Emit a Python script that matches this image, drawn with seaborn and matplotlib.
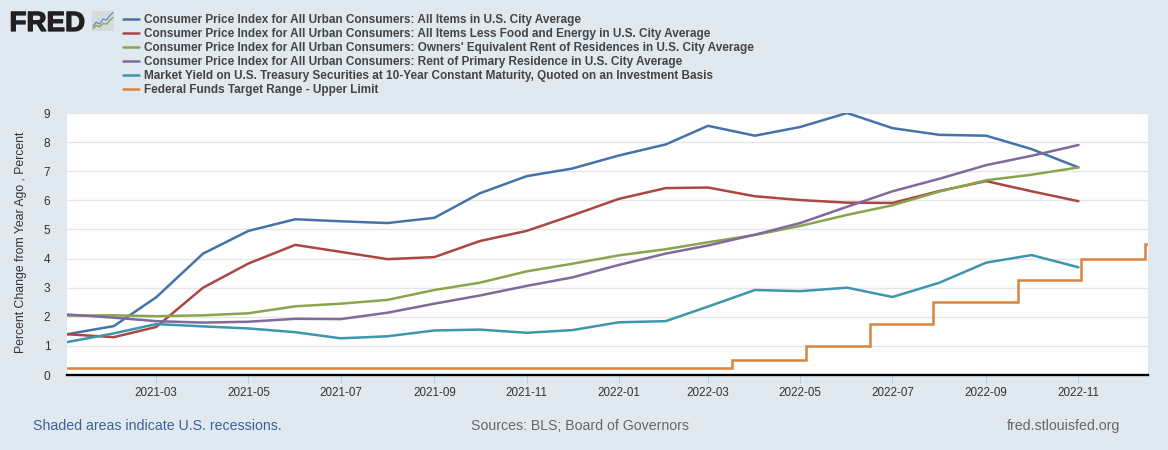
import matplotlib
matplotlib.use("Agg")
import matplotlib.pyplot as plt
import matplotlib.dates as mdates
import matplotlib.patheffects as pe
import pandas as pd
import seaborn as sns

months = pd.date_range("2021-01-01", "2022-11-01", freq="MS")
cpi_all = [1.40, 1.68, 2.67, 4.17, 4.95, 5.35, 5.28, 5.22, 5.40, 6.24, 6.83, 7.09,
           7.54, 7.92, 8.56, 8.22, 8.52, 9.00, 8.48, 8.25, 8.22, 7.76, 7.13]
cpi_core = [1.40, 1.30, 1.65, 3.00, 3.83, 4.47, 4.23, 3.98, 4.05, 4.60, 4.95, 5.48,
            6.05, 6.42, 6.44, 6.14, 6.01, 5.92, 5.91, 6.32, 6.66, 6.31, 5.97]
oer = [2.04, 2.05, 2.02, 2.05, 2.12, 2.36, 2.45, 2.58, 2.92, 3.17, 3.56, 3.82,
       4.11, 4.32, 4.56, 4.81, 5.12, 5.50, 5.83, 6.30, 6.69, 6.88, 7.13]
rent = [2.08, 1.97, 1.85, 1.80, 1.83, 1.93, 1.92, 2.14, 2.45, 2.73, 3.06, 3.35,
        3.78, 4.17, 4.45, 4.82, 5.22, 5.78, 6.31, 6.74, 7.21, 7.53, 7.90]
yield_10y = [1.13, 1.43, 1.75, 1.67, 1.60, 1.47, 1.26, 1.33, 1.53, 1.56, 1.45, 1.54,
             1.81, 1.85, 2.35, 2.92, 2.88, 3.00, 2.68, 3.17, 3.86, 4.12, 3.70]
ff_dates = pd.to_datetime(["2021-01-01", "2022-03-17", "2022-05-05", "2022-06-16", "2022-07-28",
                           "2022-09-22", "2022-11-03", "2022-12-15", "2022-12-17"])
ff_upper = [0.25, 0.50, 1.00, 1.75, 2.50, 3.25, 4.00, 4.50, 4.50]

names = ["Consumer Price Index for All Urban Consumers: All Items in U.S. City Average",
         "Consumer Price Index for All Urban Consumers: All Items Less Food and Energy in U.S. City Average",
         "Consumer Price Index for All Urban Consumers: Owners' Equivalent Rent of Residences in U.S. City Average",
         "Consumer Price Index for All Urban Consumers: Rent of Primary Residence in U.S. City Average",
         "Market Yield on U.S. Treasury Securities at 10-Year Constant Maturity, Quoted on an Investment Basis",
         "Federal Funds Target Range - Upper Limit"]
colors = ["#4572a7", "#aa4643", "#89a54e", "#80699b", "#3d96ae", "#db843d"]
monthly = [cpi_all, cpi_core, oer, rent, yield_10y]

logo_x = [0, 1, 2, 3, 4, 5, 6]
logo_blue = [1.2, 2.2, 1.7, 3.0, 2.7, 3.8, 4.6]
logo_green = [0.6, 1.4, 1.0, 1.9, 1.7, 2.6, 3.4]

BG = "#e1e9f0"
W, H = 1168, 450
sns.set_theme(style="white")
plt.rcParams["font.family"] = ["Liberation Sans", "DejaVu Sans"]

fig = plt.figure(figsize=(W / 100, H / 100), dpi=100, facecolor=BG)
ax = fig.add_axes([67 / W, 1 - 375 / H, (1148 - 67) / W, (375 - 113) / H], facecolor="white")

for name, color, values in zip(names, colors, monthly):
    sns.lineplot(x=months, y=values, ax=ax, color=color, linewidth=1.8, label=name,
                 errorbar=None, solid_joinstyle="round", legend=False)
sns.lineplot(x=ff_dates, y=ff_upper, ax=ax, color=colors[5], linewidth=1.8, label=names[5],
             drawstyle="steps-post", errorbar=None, solid_joinstyle="miter", legend=False)

ax.set_xlim(pd.Timestamp("2021-01-01"), pd.Timestamp("2022-12-17"))
ax.set_ylim(0, 9)
ax.set_yticks(range(0, 10))
ax.set_xticks([pd.Timestamp(f"{y}-{m:02d}-01") for y, m in
               [(2021, 3), (2021, 5), (2021, 7), (2021, 9), (2021, 11), (2022, 1),
                (2022, 3), (2022, 5), (2022, 7), (2022, 9), (2022, 11)]])
ax.xaxis.set_major_formatter(mdates.DateFormatter("%Y-%m"))
ax.grid(axis="y", color="#e6e6e6", linewidth=1)
ax.set_axisbelow(True)
for side in ["top", "right", "left"]:
    ax.spines[side].set_visible(False)
ax.spines["bottom"].set_color("black")
ax.spines["bottom"].set_linewidth(1.7)
ax.tick_params(axis="x", length=6, width=0.8, color="#c0d0e0", labelcolor="#333333",
               labelsize=8.4, pad=2.5, bottom=True)
ax.tick_params(axis="y", length=0, labelcolor="#333333", labelsize=8.6, pad=12)
ax.set_xlabel("")
ax.set_ylabel("Percent Change from Year Ago , Percent", fontsize=8.8, color="#333333",
              labelpad=12.3, y=0.508)

handles, labels = ax.get_legend_handles_labels()
leg = fig.legend(handles, labels, loc="upper left", bbox_to_anchor=(123 / W, 1 - 14 / H),
                 frameon=False, prop={"weight": "bold", "size": 8.45}, labelcolor="#444444",
                 handlelength=1.37, handletextpad=0.43, labelspacing=0.165, borderpad=0, borderaxespad=0)

fig.text(9.5 / W, 1 - 31 / H, "FRED", fontsize=20, fontweight="bold", color="#231f20",
         va="baseline", ha="left",
         path_effects=[pe.withStroke(linewidth=0.9, foreground="#231f20")])
icon = fig.add_axes([92 / W, 1 - 31 / H, 22 / W, 20 / H], facecolor="#d5dadc")
icon.plot(logo_x, logo_blue, color="#5b93bd", linewidth=0.9)
icon.plot(logo_x, logo_green, color="#7ea650", linewidth=0.9)
icon.set_xlim(-0.3, 6.3)
icon.set_ylim(0, 5)
icon.set_xticks([])
icon.set_yticks([])
for s in icon.spines.values():
    s.set_visible(False)

fig.text(33 / W, 1 - 430 / H, "Shaded areas indicate U.S. recessions.", fontsize=10.15, color="#3a6199")
fig.text(580 / W, 1 - 430 / H, "Sources: BLS; Board of Governors", fontsize=10.2, color="#666666", ha="center")
fig.text(1120 / W, 1 - 430 / H, "fred.stlouisfed.org", fontsize=10.2, color="#666666", ha="right")

fig.savefig("out.png", dpi=100, facecolor=BG)
